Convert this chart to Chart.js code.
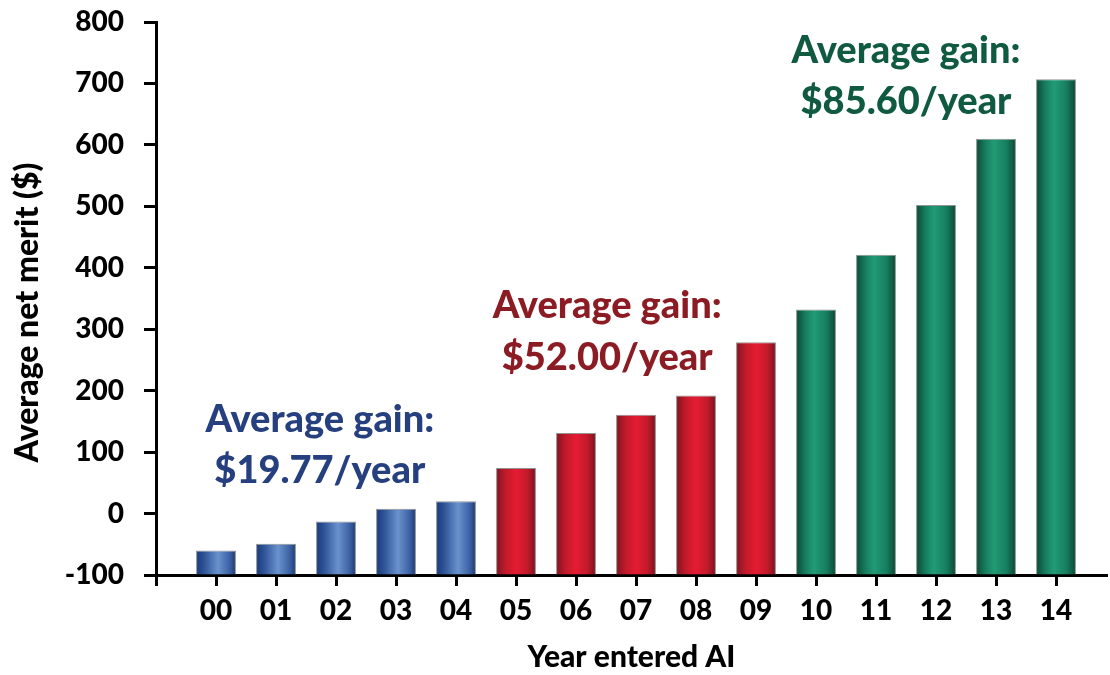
<!DOCTYPE html>
<html>
<head>
<meta charset="utf-8">
<script src="https://cdn.jsdelivr.net/npm/chart.js@4.4.1/dist/chart.umd.min.js"></script>
<style>
  body { margin: 0; background: #fff; }
  #wrap { width: 1110px; height: 675px; position: relative; }
</style>
</head>
<body>
<div id="wrap"><canvas id="canvas"></canvas></div>
<script>
// data
const years = ["00", "01", "02", "03", "04", "05", "06", "07", "08", "09", "10", "11", "12", "13", "14"];
const netMerit = [-60, -49, -13, 8, 20, 74, 131, 161, 192, 279, 332, 421, 502, 610, 707];
const group = [0, 0, 0, 0, 0, 1, 1, 1, 1, 1, 2, 2, 2, 2, 2];
const yTicks = [-100, 0, 100, 200, 300, 400, 500, 600, 700, 800];
const yTitle = "Average net merit ($)";
const xTitle = "Year entered AI";

const gainLabels = [
  ["Average gain:", "$19.77/year"],
  ["Average gain:", "$52.00/year"],
  ["Average gain:", "$85.60/year"],
];
// where each label sits, in axis units (x = category position, y = net merit)
const gainAnchors = [
  { x: 2.73, y: [152, 69] },
  { x: 7.52, y: [339, 254] },
  { x: 12.5, y: [754, 671] },
];

const textColors = ["#263f7f", "#8c1c24", "#0f5a40"];
const barStops = [
  [[0, "#1b3a7b"], [0.2, "#2e5397"], [0.55, "#6a92cd"], [0.85, "#3b60a2"], [1, "#1d3972"]],
  [[0, "#7f1420"], [0.25, "#c31a2b"], [0.5, "#e51c33"], [0.78, "#c31a2b"], [1, "#7a131d"]],
  [[0, "#0b4a33"], [0.25, "#178062"], [0.45, "#219b73"], [0.75, "#178062"], [1, "#0b4833"]],
];

const fontFamily = "Lato, 'Open Sans', sans-serif";
const heavy = "900";

function barFill(c) {
  const g = barStops[group[c.dataIndex]];
  const xs = c.chart.scales && c.chart.scales.x;
  if (!xs) return g[2][1];
  const cx = xs.getPixelForValue(c.dataIndex + 1);
  const half = 0.5 * 0.665 * (xs.getPixelForValue(1) - xs.getPixelForValue(0));
  if (!isFinite(cx) || !isFinite(half) || half <= 0) return g[2][1];
  const grad = c.chart.ctx.createLinearGradient(cx - half, 0, cx + half, 0);
  g.forEach((s) => grad.addColorStop(s[0], s[1]));
  return grad;
}

const gainText = {
  id: "gainText",
  afterDatasetsDraw(chart) {
    const ctx = chart.ctx;
    const xs = chart.scales.x;
    const ys = chart.scales.y;
    ctx.save();
    ctx.font = heavy + " 38px " + fontFamily;
    ctx.textAlign = "center";
    ctx.textBaseline = "middle";
    gainLabels.forEach((lines, i) => {
      ctx.fillStyle = textColors[i];
      lines.forEach((t, j) => {
        ctx.fillText(t, xs.getPixelForValue(gainAnchors[i].x), ys.getPixelForValue(gainAnchors[i].y[j]));
      });
    });

    // y title sits a little below the middle of the axis in the original
    ctx.font = heavy + " 32px " + fontFamily;
    ctx.fillStyle = "#000";
    ctx.translate(28, ys.top + ys.height / 2 + 14);
    ctx.rotate(-Math.PI / 2);
    ctx.fillText(yTitle, 0, 0);
    ctx.restore();
  },
};

const ctx = document.getElementById("canvas").getContext("2d");
const myChart = new Chart(ctx, {
  type: "bar",
  data: {
    datasets: [
      {
        data: netMerit.map((v, i) => ({ x: i + 1, y: v })),
        base: -100,
        backgroundColor: barFill,
        borderColor: "rgba(120,120,120,0.8)",
        borderWidth: { top: 1, left: 1, right: 1, bottom: 0 },
        barPercentage: 0.665,
        categoryPercentage: 1,
      },
    ],
  },
  options: {
    responsive: true,
    maintainAspectRatio: false,
    animation: false,
    layout: { padding: { top: 22, right: 3, left: 0, bottom: 0 } },
    plugins: { legend: { display: false }, tooltip: { enabled: false } },
    scales: {
      x: {
        type: "linear",
        min: 0,
        max: 15.85,
        offset: false,
        afterFit: (s) => { s.height = 100; s.paddingLeft = 0; s.paddingRight = 0; },
        border: { color: "#000", width: 3 },
        grid: { offset: false, drawOnChartArea: false, tickLength: 11, tickWidth: 3, tickColor: "#000" },
        ticks: {
          stepSize: 1,
          includeBounds: false,
          autoSkip: false,
          maxRotation: 0,
          padding: 8,
          color: "#000",
          font: { family: fontFamily, size: 28, weight: heavy },
          callback: (v) => (v >= 1 && v <= years.length ? years[v - 1] : ""),
        },
        title: {
          display: true,
          text: xTitle,
          color: "#000",
          font: { family: fontFamily, size: 30, weight: heavy },
          padding: { top: 6, bottom: 0 },
        },
      },
      y: {
        min: yTicks[0],
        max: yTicks[yTicks.length - 1],
        afterFit: (s) => { s.width = 156; s.paddingTop = 0; s.paddingBottom = 0; },
        afterBuildTicks: (s) => { s.ticks = yTicks.map((v) => ({ value: v })); },
        border: { color: "#000", width: 3 },
        grid: { drawOnChartArea: false, tickLength: 12, tickWidth: 3, tickColor: "#000" },
        ticks: {
          padding: 20,
          color: "#000",
          font: { family: fontFamily, size: 28, weight: heavy },
        },
      },
    },
  },
  plugins: [gainText],
});
myChart.update();
</script>
</body>
</html>
